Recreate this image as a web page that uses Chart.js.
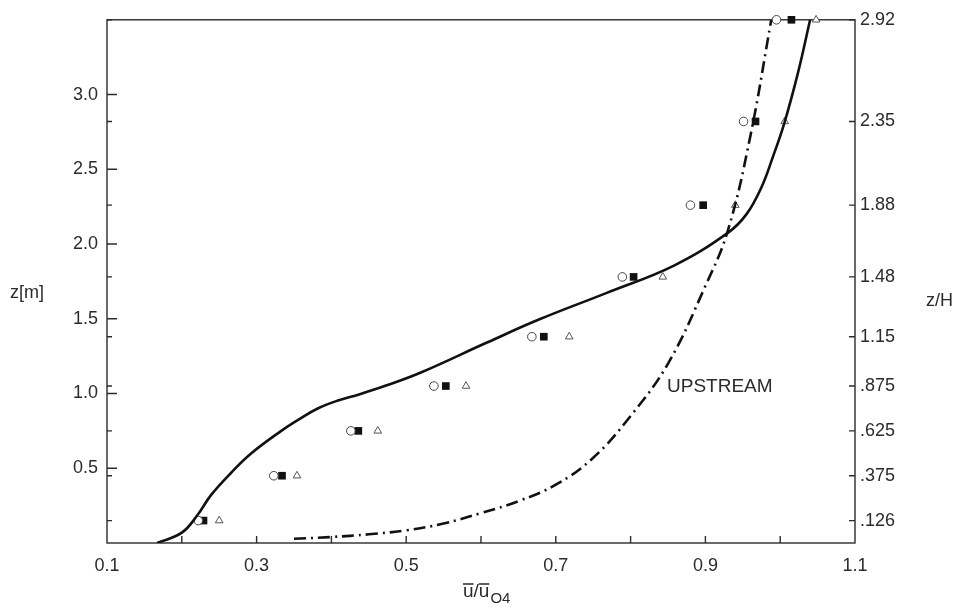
<!DOCTYPE html>
<html>
<head>
<meta charset="utf-8">
<script src="https://cdn.jsdelivr.net/npm/chart.js@4.4.0/dist/chart.umd.min.js"></script>
<style>
  html, body { margin: 0; padding: 0; background: #fff; }
  #wrap { width: 958px; height: 608px; }
</style>
</head>
<body>
<div id="wrap"><canvas id="profile"></canvas></div>
<script>
// measurement heights z [m] and their z/H labels on the right axis
const rowZ = [0.15, 0.45, 0.75, 1.05, 1.38, 1.78, 2.26, 2.82, 3.5];
const rowZH = [".126", ".375", ".625", ".875", "1.15", "1.48", "1.88", "2.35", "2.92"];

// u/u04 of the three runs at each height
const runCircle = [0.222, 0.323, 0.426, 0.537, 0.668, 0.789, 0.880, 0.951, 0.995];
const runSquare = [0.229, 0.334, 0.436, 0.553, 0.684, 0.804, 0.897, 0.967, 1.015];
const runTriangle = [0.250, 0.354, 0.462, 0.580, 0.718, 0.843, 0.940, 1.006, 1.048];

// solid profile
const fitU = [0.167, 0.200, 0.221, 0.239, 0.266, 0.293, 0.333, 0.356, 0.383, 0.410, 0.437, 0.473, 0.518, 0.608, 0.679, 0.769, 0.858, 0.930, 0.955, 0.975, 0.990, 1.005, 1.024, 1.040];
const fitZ = [0.000, 0.069, 0.187, 0.320, 0.470, 0.600, 0.750, 0.825, 0.903, 0.955, 0.994, 1.053, 1.137, 1.341, 1.498, 1.675, 1.856, 2.075, 2.200, 2.380, 2.580, 2.800, 3.150, 3.500];

// upstream profile (dash-dot)
const upU = [0.350, 0.400, 0.450, 0.500, 0.550, 0.600, 0.650, 0.700, 0.750, 0.800, 0.850, 0.900, 0.930, 0.960, 0.988];
const upZ = [0.028, 0.040, 0.058, 0.085, 0.130, 0.200, 0.280, 0.390, 0.570, 0.850, 1.200, 1.720, 2.090, 2.720, 3.498];

const xTicks = [0.1, 0.3, 0.5, 0.7, 0.9, 1.1];
const xMarks = [0.2, 0.3, 0.4, 0.5, 0.6, 0.7, 0.8, 0.9, 1.0];
const yTicks = [0.5, 1.0, 1.5, 2.0, 2.5, 3.0];

const ink = "#2b2b2b";
const font = '"Liberation Sans", Arial, sans-serif';

const pairs = (xs, ys) => xs.map((x, i) => ({ x, y: ys[i] }));

// frame, inward ticks and the free text labels
const axisDecor = {
  id: "axisDecor",
  beforeDatasetsDraw(chart) {
    const { ctx, chartArea: a, scales } = chart;
    ctx.save();
    ctx.strokeStyle = ink;
    ctx.lineWidth = 1.4;
    ctx.strokeRect(a.left, a.top, a.width, a.height);
    ctx.beginPath();
    yTicks.forEach((v) => {
      const y = scales.y.getPixelForValue(v);
      ctx.moveTo(a.left, y);
      ctx.lineTo(a.left + 10, y);
    });
    rowZ.forEach((v) => {
      const y = scales.y.getPixelForValue(v);
      ctx.moveTo(a.left, y);
      ctx.lineTo(a.left + 5, y);
      ctx.moveTo(a.right, y);
      ctx.lineTo(a.right - 6, y);
    });
    xMarks.forEach((v) => {
      const x = scales.x.getPixelForValue(v);
      ctx.moveTo(x, a.bottom);
      ctx.lineTo(x, a.bottom - 7);
    });
    ctx.stroke();
    ctx.restore();
  },
  afterDraw(chart) {
    const { ctx } = chart;
    ctx.save();
    ctx.fillStyle = ink;
    ctx.textBaseline = "alphabetic";
    ctx.font = `18px ${font}`;
    ctx.fillText("z[m]", 10, 298);
    ctx.fillText("z/H", 926, 306);
    ctx.font = `19px ${font}`;
    ctx.fillText("UPSTREAM", 667, 392);

    // axis title: u/u with overbars, subscript O4
    const x = 463;
    const base = 597;
    ctx.font = `19px ${font}`;
    const uw = ctx.measureText("u").width;
    const sw = ctx.measureText("/").width;
    ctx.fillText("u", x, base);
    ctx.fillText("/", x + uw, base);
    ctx.fillText("u", x + uw + sw, base);
    ctx.strokeStyle = ink;
    ctx.lineWidth = 1.6;
    ctx.beginPath();
    ctx.moveTo(x, 584);
    ctx.lineTo(x + uw, 584);
    ctx.moveTo(x + uw + sw, 584);
    ctx.lineTo(x + 2 * uw + sw, 584);
    ctx.stroke();
    ctx.font = `15px ${font}`;
    ctx.fillText("O4", x + 2 * uw + sw + 1, 603);
    ctx.restore();
  },
};

new Chart(document.getElementById("profile"), {
  type: "scatter",
  data: {
    datasets: [
      {
        label: "profile",
        data: pairs(fitU, fitZ),
        showLine: true,
        borderColor: "#111",
        borderWidth: 2.6,
        pointRadius: 0,
        tension: 0.4,
      },
      {
        label: "upstream",
        data: pairs(upU, upZ),
        showLine: true,
        borderColor: "#111",
        borderWidth: 2.6,
        borderDash: [12, 5, 2, 5],
        pointRadius: 0,
        tension: 0.4,
      },
      {
        label: "run 1",
        data: pairs(runCircle, rowZ),
        pointStyle: "circle",
        pointRadius: 4.3,
        backgroundColor: "#fff",
        borderColor: "#444",
        borderWidth: 1,
        clip: false,
      },
      {
        label: "run 2",
        data: pairs(runSquare, rowZ),
        pointStyle: "rect",
        pointRadius: 5.4,
        backgroundColor: "#111",
        borderColor: "#111",
        borderWidth: 0,
        clip: false,
      },
      {
        label: "run 3",
        data: pairs(runTriangle, rowZ),
        pointStyle: "triangle",
        pointRadius: 4.4,
        backgroundColor: "#fff",
        borderColor: "#555",
        borderWidth: 1,
        clip: false,
      },
    ],
  },
  options: {
    responsive: true,
    maintainAspectRatio: false,
    animation: false,
    layout: { padding: { top: 19, left: 0, right: 0, bottom: 0 } },
    plugins: { legend: { display: false }, tooltip: { enabled: false } },
    scales: {
      x: {
        type: "linear",
        min: 0.1,
        max: 1.1,
        afterBuildTicks: (s) => { s.ticks = xTicks.map((value) => ({ value })); },
        afterFit: (s) => { s.height = 65; },
        grid: { display: false, drawTicks: false },
        border: { display: false },
        ticks: {
          autoSkip: false,
          maxRotation: 0,
          padding: 12,
          color: ink,
          font: { family: font, size: 18 },
          callback: (v) => Number(v).toFixed(1),
        },
      },
      y: {
        type: "linear",
        position: "left",
        min: 0,
        max: 3.5,
        afterBuildTicks: (s) => { s.ticks = yTicks.map((value) => ({ value })); },
        afterFit: (s) => { s.width = 107; },
        grid: { display: false, drawTicks: false },
        border: { display: false },
        ticks: {
          autoSkip: false,
          padding: 9,
          color: ink,
          font: { family: font, size: 18 },
          callback: (v) => Number(v).toFixed(1),
        },
      },
      y2: {
        type: "linear",
        position: "right",
        min: 0,
        max: 3.5,
        afterBuildTicks: (s) => { s.ticks = rowZ.map((value) => ({ value })); },
        afterFit: (s) => { s.width = 103; },
        grid: { display: false, drawTicks: false },
        border: { display: false },
        ticks: {
          autoSkip: false,
          padding: 5,
          color: ink,
          font: { family: font, size: 18 },
          callback: (v, i) => rowZH[i],
        },
      },
    },
  },
  plugins: [axisDecor],
});
</script>
</body>
</html>
